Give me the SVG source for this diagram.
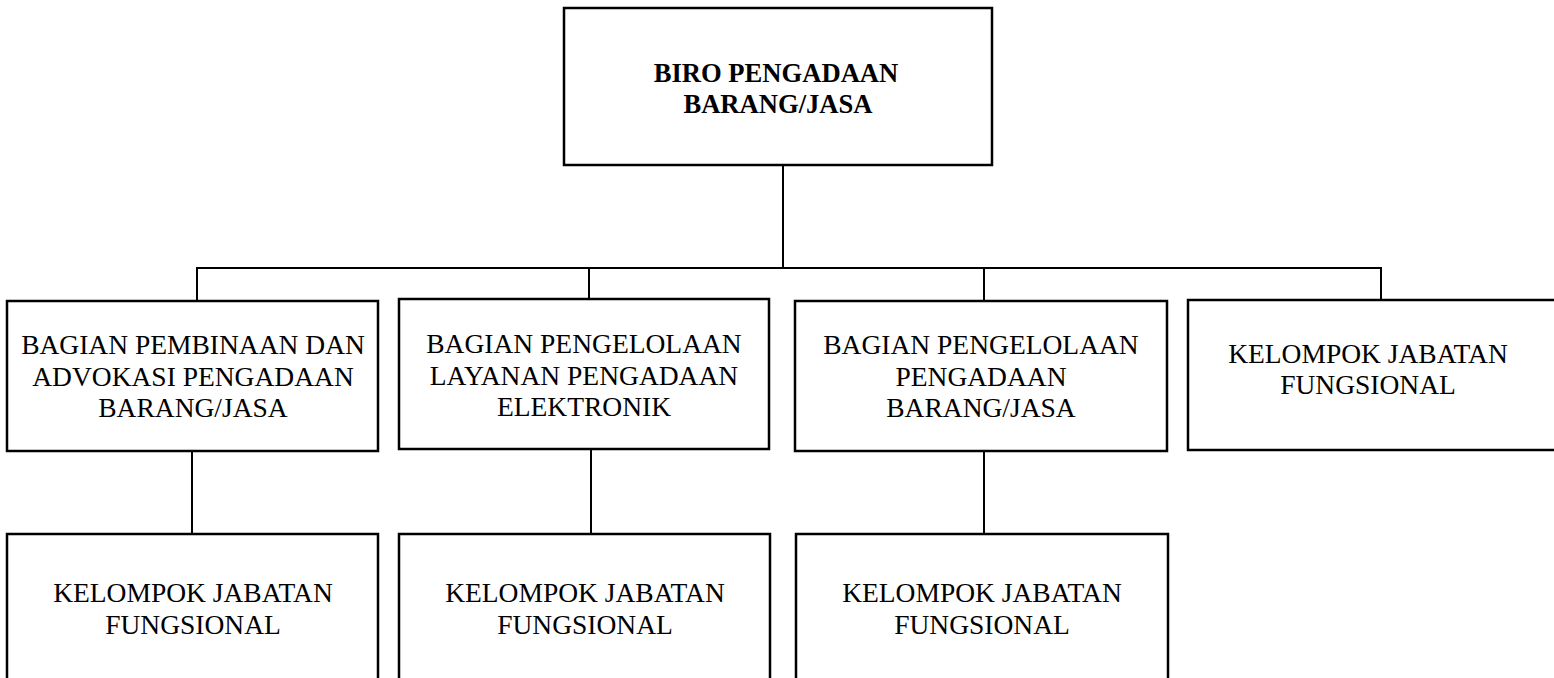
<svg xmlns="http://www.w3.org/2000/svg" width="1554" height="678" viewBox="0 0 1554 678">
<style>
.box{fill:#fff;stroke:#000;stroke-width:2.5}
.ln{fill:none;stroke:#000;stroke-width:2}
.t{font-family:"Liberation Serif","Times New Roman",serif;font-size:27.5px;fill:#000;text-anchor:middle}
.tb{font-family:"Liberation Serif","Times New Roman",serif;font-size:26.6px;font-weight:bold;fill:#000;text-anchor:middle}
</style>
<rect width="1554" height="678" fill="#fff"/>
<g id="connectors">
<line class="ln" x1="783" y1="165" x2="783" y2="268"/>
<line class="ln" x1="196" y1="268" x2="1382" y2="268"/>
<line class="ln" x1="197" y1="268" x2="197" y2="301"/>
<line class="ln" x1="589" y1="268" x2="589" y2="299"/>
<line class="ln" x1="984" y1="268" x2="984" y2="301"/>
<line class="ln" x1="1381" y1="268" x2="1381" y2="300"/>
<line class="ln" x1="192" y1="447" x2="192" y2="534"/>
<line class="ln" x1="591" y1="449" x2="591" y2="534"/>
<line class="ln" x1="984" y1="451" x2="984" y2="534"/>
</g>
<g id="biro">
<rect class="box" x="564" y="8" width="428" height="157"/>
<text class="tb" x="776" y="82">BIRO PENGADAAN</text>
<text class="tb" x="778" y="113">BARANG/JASA</text>
</g>
<g id="bagian-pembinaan">
<rect class="box" x="7" y="301" width="371" height="150"/>
<text class="t" x="193" y="354">BAGIAN PEMBINAAN DAN</text>
<text class="t" x="193" y="386">ADVOKASI PENGADAAN</text>
<text class="t" x="193" y="417">BARANG/JASA</text>
</g>
<g id="bagian-layanan">
<rect class="box" x="399" y="299" width="370" height="150"/>
<text class="t" x="584" y="353">BAGIAN PENGELOLAAN</text>
<text class="t" x="584" y="385">LAYANAN PENGADAAN</text>
<text class="t" x="584" y="416">ELEKTRONIK</text>
</g>
<g id="bagian-pengelolaan">
<rect class="box" x="795" y="301" width="372" height="150"/>
<text class="t" x="981" y="354">BAGIAN PENGELOLAAN</text>
<text class="t" x="981" y="386">PENGADAAN</text>
<text class="t" x="981" y="417">BARANG/JASA</text>
</g>
<g id="kjf-top">
<rect class="box" x="1188" y="300" width="380" height="150"/>
<text class="t" x="1368" y="363">KELOMPOK JABATAN</text>
<text class="t" x="1368" y="394">FUNGSIONAL</text>
</g>
<g id="kjf-1">
<rect class="box" x="7" y="534" width="371" height="160"/>
<text class="t" x="193" y="602">KELOMPOK JABATAN</text>
<text class="t" x="193" y="634">FUNGSIONAL</text>
</g>
<g id="kjf-2">
<rect class="box" x="399" y="534" width="371" height="160"/>
<text class="t" x="585" y="602">KELOMPOK JABATAN</text>
<text class="t" x="585" y="634">FUNGSIONAL</text>
</g>
<g id="kjf-3">
<rect class="box" x="796" y="534" width="372" height="160"/>
<text class="t" x="982" y="602">KELOMPOK JABATAN</text>
<text class="t" x="982" y="634">FUNGSIONAL</text>
</g>
</svg>
